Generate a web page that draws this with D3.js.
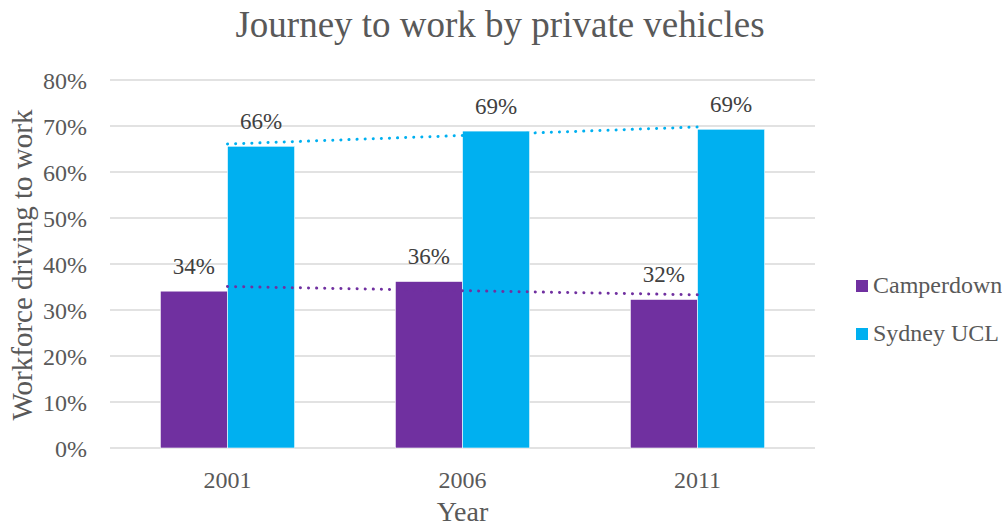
<!DOCTYPE html>
<html>
<head>
<meta charset="utf-8">
<script src="https://cdn.jsdelivr.net/npm/d3@7"></script>
<style>
  html, body { margin: 0; padding: 0; background: #fff; }
  svg text { font-family: "Liberation Serif", "Times New Roman", Times, "DejaVu Serif", serif; }
</style>
</head>
<body>
<svg id="chart" width="1002" height="526"></svg>
<script>
// Census years and share of workforce driving to work
const years = ["2001", "2006", "2011"];
const seriesNames = ["Camperdown", "Sydney UCL"];
const camperdown = [0.341, 0.362, 0.323];
const sydneyUCL = [0.656, 0.689, 0.693];
const yTicks = [0, 0.1, 0.2, 0.3, 0.4, 0.5, 0.6, 0.7, 0.8];
const colors = ["#7030A0", "#00B0F0"];

const svg = d3.select("#chart");
const margin = { left: 110, right: 187, top: 80, bottom: 78 };
const W = 1002, H = 526;

const x = d3.scaleBand().domain(years).range([margin.left, W - margin.right]).paddingInner(0).paddingOuter(0);
const inner = d3.scaleBand().domain(seriesNames).range([0, x.bandwidth()]).paddingInner(0).paddingOuter(0.75);
const y = d3.scaleLinear().domain([0, 0.8]).range([H - margin.bottom, margin.top]);

const textColor = "#595959";
const pct = d3.format(".0%");

// Gridlines
svg.append("g")
  .selectAll("line")
  .data(yTicks)
  .join("line")
  .attr("x1", margin.left).attr("x2", W - margin.right)
  .attr("y1", d => y(d)).attr("y2", d => y(d))
  .attr("stroke", "#d9d9d9").attr("stroke-width", 1.3);

// Y axis labels
const yAxis = svg.append("g")
  .attr("transform", `translate(${margin.left - 23},0)`)
  .call(d3.axisLeft(y).tickValues(yTicks).tickFormat(pct).tickSize(0).tickPadding(0));
yAxis.attr("font-family", null);
yAxis.select(".domain").remove();
yAxis.selectAll("text").attr("font-size", 24).attr("fill", textColor).attr("dy", "0.35em");

// X axis labels
const xAxis = svg.append("g")
  .attr("transform", `translate(0,${H - margin.bottom + 23})`)
  .call(d3.axisBottom(x).tickSize(0).tickPadding(0));
xAxis.attr("font-family", null);
xAxis.select(".domain").remove();
xAxis.selectAll("text").attr("font-size", 24).attr("fill", textColor);

const seriesData = [camperdown, sydneyUCL];

// Bars and value labels
seriesData.forEach((vals, si) => {
  svg.append("g")
    .selectAll("rect")
    .data(vals)
    .join("rect")
    .attr("x", (d, i) => x(years[i]) + inner(seriesNames[si]))
    .attr("width", inner.bandwidth())
    .attr("y", d => y(d))
    .attr("height", d => y(0) - y(d))
    .attr("fill", colors[si])
    .attr("stroke", "#ffffff").attr("stroke-width", 0.6);

  svg.append("g")
    .selectAll("text")
    .data(vals)
    .join("text")
    .attr("x", (d, i) => x(years[i]) + inner(seriesNames[si]) + inner.bandwidth() / 2)
    .attr("y", d => y(d) - 17)
    .attr("text-anchor", "middle")
    .attr("font-size", 23)
    .attr("fill", "#404040")
    .text(d => pct(d));
});

// Linear trend lines for each series
seriesData.forEach((vals, si) => {
  const n = vals.length;
  const xs = d3.range(n);
  const mx = d3.mean(xs), my = d3.mean(vals);
  const slope = d3.sum(xs, (xi, i) => (xi - mx) * (vals[i] - my)) / d3.sum(xs, xi => (xi - mx) ** 2);
  const icpt = my - slope * mx;
  const pts = [0, n - 1].map(i => [x(years[i]) + x.bandwidth() / 2, y(icpt + slope * i)]);
  svg.append("path")
    .attr("d", d3.line()(pts))
    .attr("fill", "none")
    .attr("stroke", colors[si])
    .attr("stroke-width", 3)
    .attr("stroke-linecap", "round")
    .attr("stroke-dasharray", "0.1 8");
});

// Title
svg.append("text")
  .attr("x", 500).attr("y", 37)
  .attr("text-anchor", "middle")
  .attr("font-size", 37)
  .attr("fill", textColor)
  .text("Journey to work by private vehicles");

// Axis titles
svg.append("text")
  .attr("transform", "translate(32,265) rotate(-90)")
  .attr("text-anchor", "middle")
  .attr("font-size", 29)
  .attr("fill", textColor)
  .text("Workforce driving to work");

svg.append("text")
  .attr("x", (margin.left + W - margin.right) / 2).attr("y", 521)
  .attr("text-anchor", "middle")
  .attr("font-size", 28)
  .attr("fill", textColor)
  .text("Year");

// Legend
const legend = svg.append("g").attr("transform", "translate(856,280)");
seriesNames.forEach((name, i) => {
  const g = legend.append("g").attr("transform", `translate(0,${i * 48})`);
  g.append("rect").attr("width", 12).attr("height", 12).attr("fill", colors[i]);
  g.append("text").attr("x", 17).attr("y", 13).attr("font-size", 24).attr("fill", textColor).text(name);
});
</script>
</body>
</html>
